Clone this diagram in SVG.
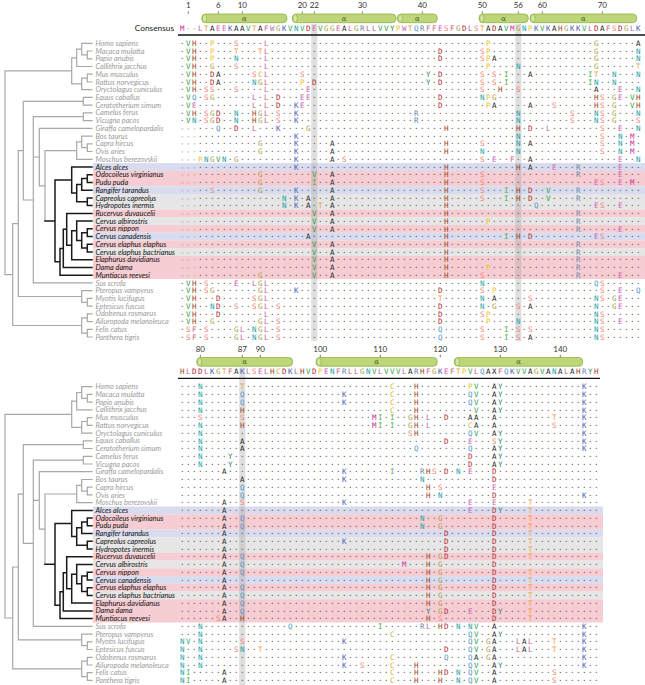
<svg xmlns="http://www.w3.org/2000/svg" xmlns:xlink="http://www.w3.org/1999/xlink" width="645" height="685" viewBox="0 0 645 685">
<style>
.s{font-family:"DejaVu Sans Mono",monospace;font-size:7.5px;letter-spacing:1.484px;fill:#4a4a4a}
.g{fill:#9a9a9a}
.A{fill:#222}.C{fill:#cfae22}.D{fill:#b22a2f}.E{fill:#cf5fae}.F{fill:#c46b86}.G{fill:#a39a3c}.H{fill:#9b4b2c}.I{fill:#52ad4a}.K{fill:#4c5ab5}.L{fill:#c45e98}.M{fill:#d12a9a}.N{fill:#18a3a6}.P{fill:#f0c12c}.Q{fill:#4a93c8}.R{fill:#6e88a6}.S{fill:#f27b6c}.T{fill:#f0a04a}.V{fill:#2f9d4a}.W{fill:#c070b0}.Y{fill:#2a7a6c}.X{fill:#222}
.nm{font-family:Lato,"Liberation Sans",sans-serif;font-style:italic;font-size:7.3px;fill:#9a9a9a}
.nb{fill:#111}
.num{font-family:Lato,"Liberation Sans",sans-serif;font-size:8px;fill:#333;text-anchor:middle}
.tick{stroke:#555;stroke-width:0.8}
.bar{fill:#bcd679;stroke:#8fb143;stroke-width:0.8}
.cap{fill:#d3e6a4;stroke:#8fb143;stroke-width:0.7}
.al{font-family:"DejaVu Serif",serif;font-size:7px;fill:#4a5a20;text-anchor:middle}
.tg{fill:none;stroke:#a8a8a8;stroke-width:1.2;stroke-linecap:square}
.tb{fill:none;stroke:#1a1a1a;stroke-width:1.5;stroke-linecap:square}
.pk{fill:#f6cdd2}.bl{fill:#d9dcef}.gy{fill:#e6e6e6}
.col{fill:#9a9a9a;opacity:0.32}
.rule{stroke:#111;stroke-width:1.3}
</style>

<!-- row bands -->
<g id="bands-top">
<rect class="bl" x="93" y="163.1" width="552" height="7.8"/>
<rect class="pk" x="93" y="170.84" width="552" height="15.5"/>
<rect class="bl" x="93" y="186.3" width="552" height="7.8"/>
<rect class="gy" x="93" y="194.03" width="552" height="15.5"/>
<rect class="pk" x="93" y="209.49" width="552" height="7.8"/>
<rect class="gy" x="93" y="217.22" width="552" height="7.8"/>
<rect class="pk" x="93" y="224.95" width="552" height="7.8"/>
<rect class="bl" x="93" y="232.68" width="552" height="7.8"/>
<rect class="pk" x="93" y="240.41" width="552" height="7.8"/>
<rect class="gy" x="93" y="248.14" width="552" height="7.8"/>
<rect class="pk" x="93" y="255.87" width="552" height="23.2"/>
</g>
<g id="bands-bottom" transform="translate(0,343.4)">
<rect class="bl" x="93" y="163.1" width="510" height="7.8"/>
<rect class="pk" x="93" y="170.84" width="510" height="15.5"/>
<rect class="bl" x="93" y="186.3" width="510" height="7.8"/>
<rect class="gy" x="93" y="194.03" width="510" height="15.5"/>
<rect class="pk" x="93" y="209.49" width="510" height="7.8"/>
<rect class="gy" x="93" y="217.22" width="510" height="7.8"/>
<rect class="pk" x="93" y="224.95" width="510" height="7.8"/>
<rect class="bl" x="93" y="232.68" width="510" height="7.8"/>
<rect class="pk" x="93" y="240.41" width="510" height="7.8"/>
<rect class="gy" x="93" y="248.14" width="510" height="7.8"/>
<rect class="pk" x="93" y="255.87" width="510" height="23.2"/>
</g>

<!-- highlighted columns -->
<g id="columns">
<rect class="col" x="311.2" y="24" width="6.2" height="317"/>
<rect class="col" x="515.2" y="24" width="6.2" height="317"/>
<rect class="col" x="239.2" y="367.5" width="6.2" height="317.5"/>
</g>

<!-- tree -->
<g id="tree-top">
<path class="tg" d="M81.7,43.3H92M87.3,51H92M87.3,58.8H92M87.3,51V58.8M81.7,54.9H87.3M81.7,43.3V54.9M76.7,49.1H81.7M76.7,66.5H92M76.7,49.1V66.5M71.7,57.8H76.7M87.3,74.2H92M87.3,82H92M87.3,74.2V82M81.7,78.1H87.3M81.7,89.7H92M81.7,78.1V89.7M71.7,83.9H81.7M71.7,57.8V83.9M5,70.9H71.7M83.3,97.4H92M83.3,105.1H92M83.3,97.4V105.1M23.3,101.3H83.3M83.3,112.9H92M83.3,120.6H92M83.3,112.9V120.6M33.3,116.7H83.3M39.3,128.3H92M87.3,143.8H92M87.3,151.5H92M87.3,143.8V151.5M81.7,147.7H87.3M81.7,136.1H92M81.7,136.1V147.7M76.7,141.9H81.7M76.7,159.3H92M76.7,141.9V159.3M45,150.6H76.7M45,150.6V220.9M39.3,185.8H45M39.3,128.3V185.8M33.3,157H39.3M33.3,282.9H92M33.3,116.7V282.9M23.3,200H33.3M23.3,101.3V200M18.3,150.7H23.3M87.3,298.4H92M87.3,306.1H92M87.3,298.4V306.1M81.7,302.3H87.3M81.7,290.7H92M81.7,290.7V302.3M18.3,296.5H81.7M18.3,150.7V296.5M12.7,223.6H18.3M87.3,313.9H92M87.3,321.6H92M87.3,313.9V321.6M81.7,317.8H87.3M87.3,329.3H92M87.3,337H92M87.3,329.3V337M81.7,333.2H87.3M81.7,317.8V333.2M12.7,325.5H81.7M12.7,223.6V325.5M5,274.6H12.7M5,70.9V274.6"/>
<path class="tb" d="M87.3,174.7H92M87.3,182.4H92M87.3,174.7V182.4M81.7,178.6H87.3M81.7,190.2H92M81.7,178.6V190.2M76.7,184.4H81.7M87.3,197.9H92M87.3,205.6H92M87.3,197.9V205.6M76.7,201.8H87.3M76.7,184.4V201.8M71.7,193.1H76.7M71.7,167H92M71.7,167V193.1M55,180H71.7M87.3,228.8H92M87.3,236.5H92M87.3,228.8V236.5M81.7,232.7H87.3M87.3,244.3H92M87.3,252H92M87.3,244.3V252M81.7,248.1H87.3M81.7,232.7V248.1M76.7,240.4H81.7M76.7,221.1H92M76.7,221.1V240.4M71.7,230.8H76.7M71.7,259.7H92M71.7,230.8V259.7M66.7,245.3H71.7M66.7,213.4H92M66.7,213.4V245.3M63.3,229.3H66.7M63.3,267.5H92M63.3,229.3V267.5M60,248.4H63.3M60,275.2H92M60,248.4V275.2M55,261.8H60M55,180V261.8M45,220.9H55"/>
</g>
<use xlink:href="#tree-top" href="#tree-top" transform="translate(0,343.4)"/>

<!-- species names -->
<g id="names-top" class="nm">
<text x="95.5" y="45.9">Homo sapiens</text>
<text x="95.5" y="53.63">Macaca mulatta</text>
<text x="95.5" y="61.36">Papio anubis</text>
<text x="95.5" y="69.09">Callithrix jacchus</text>
<text x="95.5" y="76.82">Mus musculus</text>
<text x="95.5" y="84.55">Rattus norvegicus</text>
<text x="95.5" y="92.28">Oryctolagus cuniculus</text>
<text x="95.5" y="100.01">Equus caballus</text>
<text x="95.5" y="107.74">Ceratotherium simum</text>
<text x="95.5" y="115.47">Camelus ferus</text>
<text x="95.5" y="123.2">Vicugna pacos</text>
<text x="95.5" y="130.93">Giraffa camelopardalis</text>
<text x="95.5" y="138.66">Bos taurus</text>
<text x="95.5" y="146.39">Capra hircus</text>
<text x="95.5" y="154.12">Ovis aries</text>
<text x="95.5" y="161.85">Moschus berezovskii</text>
<text class="nb" x="95.5" y="169.58">Alces alces</text>
<text class="nb" x="95.5" y="177.31">Odocoileus virginianus</text>
<text class="nb" x="95.5" y="185.04">Pudu puda</text>
<text class="nb" x="95.5" y="192.77">Rangifer tarandus</text>
<text class="nb" x="95.5" y="200.5">Capreolus capreolus</text>
<text class="nb" x="95.5" y="208.23">Hydropotes inermis</text>
<text class="nb" x="95.5" y="215.96">Rucervus duvaucelii</text>
<text class="nb" x="95.5" y="223.69">Cervus albirostris</text>
<text class="nb" x="95.5" y="231.42">Cervus nippon</text>
<text class="nb" x="95.5" y="239.15">Cervus canadensis</text>
<text class="nb" x="95.5" y="246.88">Cervus elaphus elaphus</text>
<text class="nb" x="95.5" y="254.61">Cervus elaphus bactrianus</text>
<text class="nb" x="95.5" y="262.34">Elaphurus davidianus</text>
<text class="nb" x="95.5" y="270.07">Dama dama</text>
<text class="nb" x="95.5" y="277.8">Muntiacus reevesi</text>
<text x="95.5" y="285.53">Sus scrofa</text>
<text x="95.5" y="293.26">Pteropus vampyrus</text>
<text x="95.5" y="300.99">Myotis lucifugus</text>
<text x="95.5" y="308.72">Eptesicus fuscus</text>
<text x="95.5" y="316.45">Odobenus rosmarus</text>
<text x="95.5" y="324.18">Ailuropoda melanoleuca</text>
<text x="95.5" y="331.91">Felis catus</text>
<text x="95.5" y="339.64">Panthera tigris</text>
</g>
<use xlink:href="#names-top" href="#names-top" transform="translate(0,343.4)"/>

<!-- numbering, helices, consensus: top -->
<g id="header-top">
<text class="num" x="188.3" y="8.3">1</text><text class="num" x="218.3" y="8.3">6</text><text class="num" x="242.3" y="8.3">10</text><text class="num" x="302.3" y="8.3">20</text><text class="num" x="314.3" y="8.3">22</text><text class="num" x="362.3" y="8.3">30</text><text class="num" x="422.3" y="8.3">40</text><text class="num" x="482.3" y="8.3">50</text><text class="num" x="518.3" y="8.3">56</text><text class="num" x="542.3" y="8.3">60</text><text class="num" x="602.3" y="8.3">70</text>
<path class="tick" d="M188.3,11.4V13.8M218.3,11.4V13.8M242.3,11.4V13.8M302.3,11.4V13.8M314.3,11.4V13.8M362.3,11.4V13.8M422.3,11.4V13.8M482.3,11.4V13.8M518.3,11.4V13.8M542.3,11.4V13.8M602.3,11.4V13.8"/>
<rect class="bar" x="201.7" y="14" width="85.3" height="8.7" rx="4"/><ellipse class="cap" cx="204.6" cy="18.35" rx="2.2" ry="3.9"/><text class="al" x="244.3" y="20.6">α</text>
<rect class="bar" x="292.3" y="14" width="103.7" height="8.7" rx="4"/><ellipse class="cap" cx="295.2" cy="18.35" rx="2.2" ry="3.9"/><text class="al" x="344.2" y="20.6">α</text>
<rect class="bar" x="397.3" y="14" width="40" height="8.7" rx="4"/><ellipse class="cap" cx="400.2" cy="18.35" rx="2.2" ry="3.9"/><text class="al" x="417.3" y="20.6">α</text>
<rect class="bar" x="479" y="14" width="49.3" height="8.7" rx="4"/><ellipse class="cap" cx="481.9" cy="18.35" rx="2.2" ry="3.9"/><text class="al" x="503.7" y="20.6">α</text>
<rect class="bar" x="530" y="14" width="106.7" height="8.7" rx="4"/><ellipse class="cap" cx="532.9" cy="18.35" rx="2.2" ry="3.9"/><text class="al" x="583.4" y="20.6">α</text>
<text x="174" y="31" style="font-family:Lato,'Liberation Sans',sans-serif;font-size:8.3px;fill:#222;text-anchor:end">Consensus</text>
<text class="s" x="180" y="31"><tspan class="M">M</tspan><tspan class="g">--</tspan><tspan class="L">L</tspan><tspan class="T">T</tspan><tspan class="A">A</tspan><tspan class="E">EE</tspan><tspan class="K">K</tspan><tspan class="A">AA</tspan><tspan class="V">V</tspan><tspan class="T">T</tspan><tspan class="A">A</tspan><tspan class="F">F</tspan><tspan class="W">W</tspan><tspan class="G">G</tspan><tspan class="K">K</tspan><tspan class="V">V</tspan><tspan class="N">N</tspan><tspan class="V">V</tspan><tspan class="D">D</tspan><tspan class="E">E</tspan><tspan class="V">V</tspan><tspan class="G">GG</tspan><tspan class="E">E</tspan><tspan class="A">A</tspan><tspan class="L">L</tspan><tspan class="G">G</tspan><tspan class="R">R</tspan><tspan class="L">LL</tspan><tspan class="V">VV</tspan><tspan class="Y">Y</tspan><tspan class="P">P</tspan><tspan class="W">W</tspan><tspan class="T">T</tspan><tspan class="Q">Q</tspan><tspan class="R">R</tspan><tspan class="F">FF</tspan><tspan class="E">E</tspan><tspan class="S">S</tspan><tspan class="F">F</tspan><tspan class="G">G</tspan><tspan class="D">D</tspan><tspan class="L">L</tspan><tspan class="S">S</tspan><tspan class="T">T</tspan><tspan class="A">A</tspan><tspan class="D">D</tspan><tspan class="A">A</tspan><tspan class="V">V</tspan><tspan class="M">M</tspan><tspan class="G">G</tspan><tspan class="N">N</tspan><tspan class="P">P</tspan><tspan class="K">K</tspan><tspan class="V">V</tspan><tspan class="K">K</tspan><tspan class="A">A</tspan><tspan class="H">H</tspan><tspan class="G">G</tspan><tspan class="K">KK</tspan><tspan class="V">V</tspan><tspan class="L">L</tspan><tspan class="D">D</tspan><tspan class="A">A</tspan><tspan class="F">F</tspan><tspan class="S">S</tspan><tspan class="D">D</tspan><tspan class="G">G</tspan><tspan class="L">L</tspan><tspan class="K">K</tspan></text>
<line class="rule" x1="178" y1="35" x2="645" y2="35"/>
</g>

<!-- numbering, helices, consensus: bottom -->
<g id="header-bottom">
<text class="num" x="200.3" y="351.7">80</text><text class="num" x="242.3" y="351.7">87</text><text class="num" x="260.3" y="351.7">90</text><text class="num" x="320.3" y="351.7">100</text><text class="num" x="380.3" y="351.7">110</text><text class="num" x="440.3" y="351.7">120</text><text class="num" x="500.3" y="351.7">130</text><text class="num" x="560.3" y="351.7">140</text>
<path class="tick" d="M200.3,354.8V357.2M242.3,354.8V357.2M260.3,354.8V357.2M320.3,354.8V357.2M380.3,354.8V357.2M440.3,354.8V357.2M500.3,354.8V357.2M560.3,354.8V357.2"/>
<rect class="bar" x="196.7" y="357.5" width="96" height="8.7" rx="4"/><ellipse class="cap" cx="199.6" cy="361.85" rx="2.2" ry="3.9"/><text class="al" x="244.7" y="364.1">α</text>
<rect class="bar" x="316" y="357.5" width="121.3" height="8.7" rx="4"/><ellipse class="cap" cx="318.9" cy="361.85" rx="2.2" ry="3.9"/><text class="al" x="376.7" y="364.1">α</text>
<rect class="bar" x="454.3" y="357.5" width="128.4" height="8.7" rx="4"/><ellipse class="cap" cx="457.2" cy="361.85" rx="2.2" ry="3.9"/><text class="al" x="518.5" y="364.1">α</text>
<text class="s" x="180" y="374.4"><tspan class="H">H</tspan><tspan class="L">L</tspan><tspan class="D">DD</tspan><tspan class="L">L</tspan><tspan class="K">K</tspan><tspan class="G">G</tspan><tspan class="T">T</tspan><tspan class="F">F</tspan><tspan class="A">A</tspan><tspan class="K">K</tspan><tspan class="L">L</tspan><tspan class="S">S</tspan><tspan class="E">E</tspan><tspan class="L">L</tspan><tspan class="H">H</tspan><tspan class="C">C</tspan><tspan class="D">D</tspan><tspan class="K">K</tspan><tspan class="L">L</tspan><tspan class="H">H</tspan><tspan class="V">V</tspan><tspan class="D">D</tspan><tspan class="P">P</tspan><tspan class="E">E</tspan><tspan class="N">N</tspan><tspan class="F">F</tspan><tspan class="R">R</tspan><tspan class="L">LL</tspan><tspan class="G">G</tspan><tspan class="N">N</tspan><tspan class="V">V</tspan><tspan class="L">L</tspan><tspan class="V">VVV</tspan><tspan class="L">L</tspan><tspan class="A">A</tspan><tspan class="R">R</tspan><tspan class="H">H</tspan><tspan class="F">F</tspan><tspan class="G">G</tspan><tspan class="K">K</tspan><tspan class="E">E</tspan><tspan class="F">F</tspan><tspan class="T">T</tspan><tspan class="P">P</tspan><tspan class="V">V</tspan><tspan class="L">L</tspan><tspan class="Q">Q</tspan><tspan class="A">A</tspan><tspan class="X">X</tspan><tspan class="F">F</tspan><tspan class="Q">Q</tspan><tspan class="K">K</tspan><tspan class="V">VV</tspan><tspan class="A">A</tspan><tspan class="G">G</tspan><tspan class="V">V</tspan><tspan class="A">A</tspan><tspan class="N">N</tspan><tspan class="A">A</tspan><tspan class="L">L</tspan><tspan class="A">A</tspan><tspan class="H">H</tspan><tspan class="R">R</tspan><tspan class="Y">Y</tspan><tspan class="H">H</tspan></text>
<line class="rule" x1="178" y1="378.4" x2="600" y2="378.4"/>
</g>

<!-- alignment rows: top (positions 0-76) -->
<g id="rows-top" class="s">
<text x="180" y="46">·<tspan x="186" class="V">V</tspan><tspan x="192" class="H">H</tspan>··<tspan x="210" class="P">P</tspan>···<tspan x="234" class="S">S</tspan>····<tspan x="264" class="L">L</tspan>····································<tspan x="486" class="P">P</tspan>·················<tspan x="594" class="G">G</tspan>······<tspan x="636" class="A">A</tspan></text>
<text x="180" y="53.73">·<tspan x="186" class="V">V</tspan><tspan x="192" class="H">H</tspan>··<tspan x="210" class="P">P</tspan>···<tspan x="234" class="T">T</tspan>···<tspan x="258" class="T">T</tspan><tspan x="264" class="L">L</tspan>····························<tspan x="438" class="D">D</tspan>······<tspan x="480" class="S">S</tspan><tspan x="486" class="P">P</tspan>·················<tspan x="594" class="G">G</tspan>······<tspan x="636" class="N">N</tspan></text>
<text x="180" y="61.46">·<tspan x="186" class="V">V</tspan><tspan x="192" class="H">H</tspan>··<tspan x="210" class="P">P</tspan>···<tspan x="234" class="N">N</tspan>····<tspan x="264" class="L">L</tspan>····························<tspan x="438" class="D">D</tspan>······<tspan x="480" class="S">S</tspan><tspan x="486" class="P">P</tspan><tspan x="492" class="A">A</tspan>················<tspan x="594" class="G">G</tspan>······<tspan x="636" class="N">N</tspan></text>
<text x="180" y="69.19">·<tspan x="186" class="V">V</tspan><tspan x="192" class="H">H</tspan>··<tspan x="210" class="G">G</tspan>···<tspan x="234" class="S">S</tspan>····<tspan x="264" class="L">L</tspan>····································<tspan x="486" class="P">P</tspan>····<tspan x="516" class="N">N</tspan>············<tspan x="594" class="G">G</tspan>······<tspan x="636" class="T">T</tspan></text>
<text x="180" y="76.92">·<tspan x="186" class="V">V</tspan><tspan x="192" class="H">H</tspan>··<tspan x="210" class="D">D</tspan><tspan x="216" class="A">A</tspan>·····<tspan x="252" class="S">S</tspan><tspan x="258" class="C">C</tspan><tspan x="264" class="L">L</tspan>·····<tspan x="300" class="S">S</tspan>····················<tspan x="426" class="Y">Y</tspan>·<tspan x="438" class="D">D</tspan>······<tspan x="480" class="S">S</tspan>·<tspan x="492" class="S">S</tspan>·<tspan x="504" class="I">I</tspan>···<tspan x="528" class="A">A</tspan>·········<tspan x="588" class="I">I</tspan><tspan x="594" class="T">T</tspan>··<tspan x="612" class="N">N</tspan>···<tspan x="636" class="N">N</tspan></text>
<text x="180" y="84.65">·<tspan x="186" class="V">V</tspan><tspan x="192" class="H">H</tspan>··<tspan x="210" class="D">D</tspan><tspan x="216" class="A">A</tspan>·····<tspan x="252" class="N">N</tspan><tspan x="258" class="G">G</tspan><tspan x="264" class="L">L</tspan>·····<tspan x="300" class="P">P</tspan>·<tspan x="312" class="D">D</tspan>··················<tspan x="426" class="Y">Y</tspan>·<tspan x="438" class="D">D</tspan>······<tspan x="480" class="S">S</tspan>·<tspan x="492" class="S">S</tspan>·<tspan x="504" class="I">I</tspan>·············<tspan x="588" class="I">I</tspan><tspan x="594" class="N">N</tspan>··<tspan x="612" class="N">N</tspan>····</text>
<text x="180" y="92.38">·<tspan x="186" class="V">V</tspan><tspan x="192" class="H">H</tspan>·<tspan x="204" class="S">S</tspan><tspan x="210" class="S">S</tspan>···<tspan x="234" class="S">S</tspan>····<tspan x="264" class="L">L</tspan>······<tspan x="306" class="E">E</tspan>····························<tspan x="480" class="S">S</tspan>··<tspan x="498" class="H">H</tspan>··<tspan x="516" class="S">S</tspan>············<tspan x="594" class="A">A</tspan>···<tspan x="618" class="E">E</tspan>··<tspan x="636" class="N">N</tspan></text>
<text x="180" y="100.11">·<tspan x="186" class="V">V</tspan><tspan x="192" class="Q">Q</tspan>·<tspan x="204" class="S">S</tspan><tspan x="210" class="G">G</tspan>······<tspan x="252" class="L">L</tspan>·<tspan x="264" class="L">L</tspan>·<tspan x="276" class="D">D</tspan>···<tspan x="300" class="E">E</tspan><tspan x="306" class="E">E</tspan>·····················<tspan x="438" class="D">D</tspan>······<tspan x="480" class="N">N</tspan><tspan x="486" class="P">P</tspan><tspan x="492" class="G">G</tspan>················<tspan x="594" class="H">H</tspan><tspan x="600" class="S">S</tspan>·<tspan x="612" class="G">G</tspan><tspan x="618" class="E">E</tspan>·<tspan x="630" class="V">V</tspan><tspan x="636" class="H">H</tspan></text>
<text x="180" y="107.84">·<tspan x="186" class="V">V</tspan><tspan x="192" class="E">E</tspan>·········<tspan x="252" class="L">L</tspan>·<tspan x="264" class="L">L</tspan>·<tspan x="276" class="D">D</tspan>··<tspan x="294" class="K">K</tspan><tspan x="300" class="E">E</tspan>······················<tspan x="438" class="D">D</tspan>·······<tspan x="486" class="P">P</tspan><tspan x="492" class="A">A</tspan>·····<tspan x="528" class="A">A</tspan>···<tspan x="552" class="S">S</tspan>······<tspan x="594" class="H">H</tspan><tspan x="600" class="S">S</tspan>·<tspan x="612" class="G">G</tspan>··<tspan x="630" class="V">V</tspan><tspan x="636" class="H">H</tspan></text>
<text x="180" y="115.57">·<tspan x="186" class="V">V</tspan><tspan x="192" class="H">H</tspan>·<tspan x="204" class="S">S</tspan><tspan x="210" class="G">G</tspan><tspan x="216" class="D">D</tspan>··<tspan x="234" class="N">N</tspan>··<tspan x="252" class="H">H</tspan><tspan x="258" class="G">G</tspan><tspan x="264" class="L">L</tspan>·<tspan x="276" class="S">S</tspan>··<tspan x="294" class="K">K</tspan>···················<tspan x="414" class="R">R</tspan>················<tspan x="516" class="N">N</tspan>········<tspan x="570" class="S">S</tspan>···<tspan x="594" class="N">N</tspan><tspan x="600" class="S">S</tspan>·<tspan x="612" class="G">G</tspan>···<tspan x="636" class="N">N</tspan></text>
<text x="180" y="123.3">·<tspan x="186" class="V">V</tspan><tspan x="192" class="N">N</tspan>·<tspan x="204" class="S">S</tspan><tspan x="210" class="G">G</tspan><tspan x="216" class="D">D</tspan>··<tspan x="234" class="N">N</tspan>··<tspan x="252" class="H">H</tspan><tspan x="258" class="G">G</tspan><tspan x="264" class="L">L</tspan>·<tspan x="276" class="S">S</tspan>··<tspan x="294" class="K">K</tspan>···················<tspan x="414" class="R">R</tspan>················<tspan x="516" class="N">N</tspan>········<tspan x="570" class="S">S</tspan>···<tspan x="594" class="N">N</tspan><tspan x="600" class="S">S</tspan>·<tspan x="612" class="G">G</tspan>···<tspan x="636" class="S">S</tspan></text>
<text x="180" y="131.03"><tspan class="g">---</tspan>···<tspan x="216" class="Q">Q</tspan>··<tspan x="234" class="D">D</tspan>··<tspan x="252" class="L">L</tspan>···<tspan x="276" class="K">K</tspan>····<tspan x="306" class="G">G</tspan>······················<tspan x="444" class="H">H</tspan>···········<tspan x="516" class="H">H</tspan>·<tspan x="528" class="D">D</tspan>··<tspan x="546" class="L">L</tspan>········<tspan x="600" class="S">S</tspan>··<tspan x="618" class="E">E</tspan>··<tspan x="636" class="N">N</tspan></text>
<text x="180" y="138.76"><tspan class="g">---</tspan>················<tspan x="294" class="K">K</tspan>····································<tspan x="516" class="N">N</tspan>·············<tspan x="600" class="S">S</tspan>··<tspan x="618" class="N">N</tspan>·<tspan x="630" class="M">M</tspan>·</text>
<text x="180" y="146.49"><tspan class="g">---</tspan>··········<tspan x="258" class="G">G</tspan>·····<tspan x="294" class="K">K</tspan>·····<tspan x="330" class="A">A</tspan>··················<tspan x="444" class="H">H</tspan>·····<tspan x="480" class="S">S</tspan>·····<tspan x="516" class="N">N</tspan>·<tspan x="528" class="A">A</tspan>···········<tspan x="600" class="S">S</tspan>··<tspan x="618" class="N">N</tspan>·<tspan x="630" class="M">M</tspan>·</text>
<text x="180" y="154.22"><tspan class="g">---</tspan>··········<tspan x="258" class="G">G</tspan>·····<tspan x="294" class="K">K</tspan>·····<tspan x="330" class="A">A</tspan>··················<tspan x="444" class="H">H</tspan>·····<tspan x="480" class="N">N</tspan>·····<tspan x="516" class="N">N</tspan>·············<tspan x="600" class="S">S</tspan>··<tspan x="618" class="N">N</tspan>·<tspan x="630" class="M">M</tspan>·</text>
<text x="180" y="161.95"><tspan class="g">---</tspan><tspan x="198" class="P">P</tspan><tspan x="204" class="N">N</tspan><tspan x="210" class="G">G</tspan><tspan x="216" class="V">V</tspan><tspan x="222" class="N">N</tspan>·<tspan x="234" class="G">G</tspan>·········<tspan x="294" class="K">K</tspan>·····<tspan x="330" class="A">A</tspan>·<tspan x="342" class="S">S</tspan>······················<tspan x="480" class="S">S</tspan>·<tspan x="492" class="E">E</tspan>··<tspan x="510" class="F">F</tspan>··<tspan x="528" class="A">A</tspan>··············<tspan x="618" class="E">E</tspan>··<tspan x="636" class="N">N</tspan></text>
<text x="180" y="169.68"><tspan class="g">---</tspan>················<tspan x="294" class="K">K</tspan>························<tspan x="444" class="H">H</tspan>···········<tspan x="516" class="H">H</tspan>·<tspan x="528" class="A">A</tspan>···<tspan x="552" class="E">E</tspan>···<tspan x="576" class="R">R</tspan>······<tspan x="618" class="E">E</tspan>···</text>
<text x="180" y="177.41"><tspan class="g">---</tspan>··········<tspan x="258" class="G">G</tspan>········<tspan x="312" class="V">V</tspan>··<tspan x="330" class="A">A</tspan>··················<tspan x="444" class="H">H</tspan>·····<tspan x="480" class="S">S</tspan>···············<tspan x="576" class="R">R</tspan>······<tspan x="618" class="E">E</tspan>···</text>
<text x="180" y="185.14"><tspan class="g">---</tspan>··········<tspan x="258" class="G">G</tspan>········<tspan x="312" class="I">I</tspan>··<tspan x="330" class="A">A</tspan>··················<tspan x="444" class="H">H</tspan>·····<tspan x="480" class="S">S</tspan>··················<tspan x="594" class="E">E</tspan><tspan x="600" class="S">S</tspan>··<tspan x="618" class="E">E</tspan>·<tspan x="630" class="M">M</tspan>·</text>
<text x="180" y="192.87"><tspan class="g">---</tspan>··<tspan x="210" class="S">S</tspan>·······<tspan x="258" class="G">G</tspan>·····<tspan x="294" class="K">K</tspan>·····<tspan x="330" class="A">A</tspan>··················<tspan x="444" class="H">H</tspan>·····<tspan x="480" class="S">S</tspan>···<tspan x="504" class="I">I</tspan>·<tspan x="516" class="H">H</tspan>·<tspan x="528" class="D">D</tspan>··<tspan x="546" class="V">V</tspan>····<tspan x="576" class="R">R</tspan>··········</text>
<text x="180" y="200.6"><tspan class="g">---</tspan>··············<tspan x="282" class="N">N</tspan>·<tspan x="294" class="K">K</tspan>·<tspan x="306" class="A">A</tspan>···<tspan x="330" class="A">A</tspan>··················<tspan x="444" class="H">H</tspan>·····<tspan x="480" class="S">S</tspan>···<tspan x="504" class="I">I</tspan>·<tspan x="516" class="H">H</tspan>·<tspan x="528" class="D">D</tspan>··<tspan x="546" class="V">V</tspan>····<tspan x="576" class="R">R</tspan>··········</text>
<text x="180" y="208.33"><tspan class="g">---</tspan>··············<tspan x="282" class="N">N</tspan>·<tspan x="294" class="K">K</tspan>·<tspan x="306" class="A">A</tspan>·<tspan x="318" class="T">T</tspan>·<tspan x="330" class="A">A</tspan>··················<tspan x="444" class="H">H</tspan>··············<tspan x="534" class="Q">Q</tspan>·········<tspan x="594" class="E">E</tspan><tspan x="600" class="S">S</tspan>··<tspan x="618" class="E">E</tspan>···</text>
<text x="180" y="216.06"><tspan class="g">---</tspan>···················<tspan x="312" class="V">V</tspan>··<tspan x="330" class="A">A</tspan>··················<tspan x="444" class="H">H</tspan>·····················<tspan x="576" class="R">R</tspan>··········</text>
<text x="180" y="223.79"><tspan class="g">---</tspan>···················<tspan x="312" class="V">V</tspan>··<tspan x="330" class="A">A</tspan>··················<tspan x="444" class="H">H</tspan>······<tspan x="486" class="P">P</tspan>··············<tspan x="576" class="R">R</tspan>··········</text>
<text x="180" y="231.52"><tspan class="g">---</tspan>···················<tspan x="312" class="V">V</tspan>··<tspan x="330" class="A">A</tspan>··················<tspan x="444" class="H">H</tspan>·····················<tspan x="576" class="R">R</tspan>······<tspan x="618" class="E">E</tspan>···</text>
<text x="180" y="239.25"><tspan class="g">---</tspan>··················<tspan x="306" class="A">A</tspan>······················<tspan x="444" class="H">H</tspan>·········<tspan x="504" class="I">I</tspan>·<tspan x="516" class="H">H</tspan>·<tspan x="528" class="D">D</tspan>··········<tspan x="594" class="E">E</tspan><tspan x="600" class="S">S</tspan>······</text>
<text x="180" y="246.98"><tspan class="g">---</tspan>···················<tspan x="312" class="V">V</tspan>··<tspan x="330" class="A">A</tspan>··················<tspan x="444" class="H">H</tspan>·····················<tspan x="576" class="R">R</tspan>··········</text>
<text x="180" y="254.71"><tspan class="g">---</tspan>···················<tspan x="312" class="V">V</tspan>··<tspan x="330" class="A">A</tspan>··················<tspan x="444" class="H">H</tspan>·····················<tspan x="576" class="R">R</tspan>··········</text>
<text x="180" y="262.44"><tspan class="g">---</tspan>···················<tspan x="312" class="V">V</tspan>··<tspan x="330" class="A">A</tspan>··················<tspan x="444" class="H">H</tspan>·····················<tspan x="576" class="R">R</tspan>··········</text>
<text x="180" y="270.17"><tspan class="g">---</tspan>···················<tspan x="312" class="V">V</tspan>··<tspan x="330" class="A">A</tspan>··················<tspan x="444" class="H">H</tspan>······<tspan x="486" class="P">P</tspan>··············<tspan x="576" class="R">R</tspan>··········</text>
<text x="180" y="277.9"><tspan class="g">---</tspan>··········<tspan x="258" class="G">G</tspan>········<tspan x="312" class="V">V</tspan>··<tspan x="330" class="A">A</tspan>··················<tspan x="444" class="H">H</tspan>·····<tspan x="480" class="S">S</tspan>···············<tspan x="576" class="R">R</tspan>······<tspan x="618" class="E">E</tspan>···</text>
<text x="180" y="285.63">·<tspan x="186" class="V">V</tspan><tspan x="192" class="H">H</tspan>·<tspan x="204" class="S">S</tspan>····<tspan x="234" class="E">E</tspan>··<tspan x="252" class="L">L</tspan><tspan x="258" class="G">G</tspan><tspan x="264" class="L">L</tspan>···································<tspan x="480" class="N">N</tspan>··················<tspan x="594" class="Q">Q</tspan><tspan x="600" class="S">S</tspan>······</text>
<text x="180" y="293.36">·<tspan x="186" class="V">V</tspan><tspan x="192" class="H">H</tspan>·<tspan x="204" class="S">S</tspan><tspan x="210" class="G">G</tspan>·······<tspan x="258" class="G">G</tspan><tspan x="264" class="L">L</tspan>····<tspan x="294" class="K">K</tspan>·······················<tspan x="438" class="D">D</tspan>······<tspan x="480" class="S">S</tspan>·<tspan x="492" class="P">P</tspan>·················<tspan x="600" class="S">S</tspan>··<tspan x="618" class="E">E</tspan>··<tspan x="636" class="Q">Q</tspan></text>
<text x="180" y="301.09">·<tspan x="186" class="V">V</tspan><tspan x="192" class="H">H</tspan>···<tspan x="216" class="D">D</tspan>·····<tspan x="252" class="S">S</tspan><tspan x="258" class="G">G</tspan><tspan x="264" class="L">L</tspan>····························<tspan x="438" class="T">T</tspan>······<tspan x="480" class="N">N</tspan>·<tspan x="492" class="A">A</tspan>·····<tspan x="528" class="S">S</tspan>··········<tspan x="594" class="N">N</tspan><tspan x="600" class="S">S</tspan>·<tspan x="612" class="G">G</tspan><tspan x="618" class="E">E</tspan>···</text>
<text x="180" y="308.82">·<tspan x="186" class="V">V</tspan><tspan x="192" class="H">H</tspan>··<tspan x="210" class="N">N</tspan><tspan x="216" class="D">D</tspan>··<tspan x="234" class="S">S</tspan>··<tspan x="252" class="S">S</tspan><tspan x="258" class="G">G</tspan><tspan x="264" class="L">L</tspan>·<tspan x="276" class="S">S</tspan>··························<tspan x="438" class="D">D</tspan>······<tspan x="480" class="N">N</tspan>·<tspan x="492" class="G">G</tspan>···<tspan x="516" class="S">S</tspan>·<tspan x="528" class="A">A</tspan>··········<tspan x="594" class="N">N</tspan>··<tspan x="612" class="G">G</tspan><tspan x="618" class="E">E</tspan>···</text>
<text x="180" y="316.55">·<tspan x="186" class="V">V</tspan><tspan x="192" class="H">H</tspan>···<tspan x="216" class="D">D</tspan>·······<tspan x="264" class="L">L</tspan>····························<tspan x="438" class="D">D</tspan>······<tspan x="480" class="S">S</tspan><tspan x="486" class="P">P</tspan>·················<tspan x="594" class="N">N</tspan><tspan x="600" class="S">S</tspan>······</text>
<text x="180" y="324.28">·<tspan x="186" class="V">V</tspan><tspan x="192" class="H">H</tspan>··<tspan x="210" class="G">G</tspan>·······<tspan x="258" class="G">G</tspan><tspan x="264" class="L">L</tspan>·<tspan x="276" class="S">S</tspan>··························<tspan x="438" class="D">D</tspan>·······<tspan x="486" class="P">P</tspan>····<tspan x="516" class="N">N</tspan>············<tspan x="594" class="N">N</tspan><tspan x="600" class="S">S</tspan>··<tspan x="618" class="E">E</tspan>···</text>
<text x="180" y="332.01">·<tspan x="186" class="S">S</tspan><tspan x="192" class="F">F</tspan>·<tspan x="204" class="S">S</tspan>····<tspan x="234" class="G">G</tspan><tspan x="240" class="L">L</tspan>·<tspan x="252" class="N">N</tspan><tspan x="258" class="G">G</tspan><tspan x="264" class="L">L</tspan>·<tspan x="276" class="S">S</tspan>··························<tspan x="438" class="Q">Q</tspan>······<tspan x="480" class="S">S</tspan>···<tspan x="504" class="I">I</tspan>·<tspan x="516" class="S">S</tspan>·<tspan x="528" class="S">S</tspan>··········<tspan x="594" class="N">N</tspan><tspan x="600" class="S">S</tspan>······</text>
<text x="180" y="339.74">·<tspan x="186" class="S">S</tspan><tspan x="192" class="F">F</tspan>·<tspan x="204" class="S">S</tspan>····<tspan x="234" class="G">G</tspan><tspan x="240" class="L">L</tspan>·<tspan x="252" class="N">N</tspan><tspan x="258" class="G">G</tspan><tspan x="264" class="L">L</tspan>·<tspan x="276" class="S">S</tspan>··························<tspan x="438" class="Q">Q</tspan>······<tspan x="480" class="S">S</tspan>···<tspan x="504" class="I">I</tspan>·<tspan x="516" class="S">S</tspan>·<tspan x="528" class="A">A</tspan>··········<tspan x="594" class="N">N</tspan><tspan x="600" class="S">S</tspan>······</text>
</g>

<!-- alignment rows: bottom (positions 77-146) -->
<g id="rows-bottom" class="s" transform="translate(0,343.4)">
<text x="180" y="46">···<tspan x="198" class="N">N</tspan>······<tspan x="240" class="T">T</tspan>························<tspan x="390" class="C">C</tspan>···<tspan x="414" class="H">H</tspan>········<tspan x="468" class="P">P</tspan><tspan x="474" class="V">V</tspan>··<tspan x="492" class="A">A</tspan><tspan x="498" class="Y">Y</tspan>·············<tspan x="582" class="K">K</tspan>··</text>
<text x="180" y="53.73">···<tspan x="198" class="N">N</tspan>······<tspan x="240" class="Q">Q</tspan>················<tspan x="342" class="K">K</tspan>·······<tspan x="390" class="C">C</tspan>···<tspan x="414" class="H">H</tspan>········<tspan x="468" class="Q">Q</tspan><tspan x="474" class="V">V</tspan>··<tspan x="492" class="A">A</tspan><tspan x="498" class="Y">Y</tspan>·············<tspan x="582" class="K">K</tspan>··</text>
<text x="180" y="61.46">···<tspan x="198" class="N">N</tspan>······<tspan x="240" class="Q">Q</tspan>················<tspan x="342" class="K">K</tspan>·······<tspan x="390" class="C">C</tspan>···<tspan x="414" class="H">H</tspan>········<tspan x="468" class="Q">Q</tspan><tspan x="474" class="V">V</tspan>··<tspan x="492" class="A">A</tspan><tspan x="498" class="Y">Y</tspan>·············<tspan x="582" class="K">K</tspan>··</text>
<text x="180" y="69.19">···<tspan x="198" class="N">N</tspan>······<tspan x="240" class="H">H</tspan>························<tspan x="390" class="C">C</tspan>···<tspan x="414" class="H">H</tspan>·········<tspan x="474" class="V">V</tspan>··<tspan x="492" class="A">A</tspan><tspan x="498" class="Y">Y</tspan>·············<tspan x="582" class="K">K</tspan>··</text>
<text x="180" y="76.92">···<tspan x="198" class="S">S</tspan>······<tspan x="240" class="S">S</tspan>·····················<tspan x="372" class="M">M</tspan><tspan x="378" class="I">I</tspan>·<tspan x="390" class="I">I</tspan>··<tspan x="408" class="G">G</tspan><tspan x="414" class="H">H</tspan>·<tspan x="426" class="L">L</tspan>··<tspan x="444" class="D">D</tspan>···<tspan x="468" class="A">A</tspan><tspan x="474" class="A">A</tspan>··<tspan x="492" class="A">A</tspan>·········<tspan x="552" class="T">T</tspan>····<tspan x="582" class="K">K</tspan>··</text>
<text x="180" y="84.65">···<tspan x="198" class="N">N</tspan>······<tspan x="240" class="H">H</tspan>·····················<tspan x="372" class="M">M</tspan><tspan x="378" class="I">I</tspan>·<tspan x="390" class="I">I</tspan>··<tspan x="408" class="G">G</tspan><tspan x="414" class="H">H</tspan>·<tspan x="426" class="L">L</tspan>······<tspan x="468" class="C">C</tspan><tspan x="474" class="A">A</tspan>··<tspan x="492" class="A">A</tspan>·········<tspan x="552" class="S">S</tspan>····<tspan x="582" class="K">K</tspan>··</text>
<text x="180" y="92.38">···<tspan x="198" class="N">N</tspan>··································<tspan x="408" class="S">S</tspan><tspan x="414" class="H">H</tspan>········<tspan x="468" class="Q">Q</tspan><tspan x="474" class="V">V</tspan>··<tspan x="492" class="A">A</tspan><tspan x="498" class="Y">Y</tspan>·············<tspan x="582" class="K">K</tspan>··</text>
<text x="180" y="100.11">···<tspan x="198" class="N">N</tspan>······<tspan x="240" class="A">A</tspan>·································<tspan x="444" class="D">D</tspan>···<tspan x="468" class="E">E</tspan>···<tspan x="492" class="S">S</tspan><tspan x="498" class="Y">Y</tspan>·············<tspan x="582" class="K">K</tspan>··</text>
<text x="180" y="107.84">···<tspan x="198" class="N">N</tspan>······<tspan x="240" class="A">A</tspan>····························<tspan x="414" class="Q">Q</tspan>········<tspan x="468" class="Q">Q</tspan>···<tspan x="492" class="A">A</tspan><tspan x="498" class="Y">Y</tspan>·············<tspan x="582" class="K">K</tspan>··</text>
<text x="180" y="115.57">···<tspan x="198" class="N">N</tspan>····<tspan x="228" class="Y">Y</tspan>·······································<tspan x="468" class="D">D</tspan>···<tspan x="492" class="A">A</tspan><tspan x="498" class="Y">Y</tspan>················</text>
<text x="180" y="123.3">···<tspan x="198" class="N">N</tspan>····<tspan x="228" class="Y">Y</tspan>·······································<tspan x="468" class="D">D</tspan>···<tspan x="492" class="A">A</tspan><tspan x="498" class="Y">Y</tspan>················</text>
<text x="180" y="131.03">·······<tspan x="222" class="A">A</tspan>···················<tspan x="342" class="K">K</tspan>·······<tspan x="390" class="I">I</tspan>····<tspan x="420" class="R">R</tspan><tspan x="426" class="H">H</tspan><tspan x="432" class="S">S</tspan>·<tspan x="444" class="D">D</tspan>·<tspan x="456" class="N">N</tspan>·<tspan x="468" class="E">E</tspan>···<tspan x="492" class="D">D</tspan>·················</text>
<text x="180" y="138.76">··········<tspan x="240" class="A">A</tspan>················<tspan x="342" class="K">K</tspan>············<tspan x="420" class="N">N</tspan>···········<tspan x="492" class="D">D</tspan>·················</text>
<text x="180" y="146.49">··········<tspan x="240" class="Q">Q</tspan>······························<tspan x="426" class="H">H</tspan>·<tspan x="438" class="S">S</tspan>········<tspan x="492" class="E">E</tspan>·················</text>
<text x="180" y="154.22">··········<tspan x="240" class="Q">Q</tspan>······························<tspan x="426" class="H">H</tspan>·<tspan x="438" class="N">N</tspan>········<tspan x="492" class="D">D</tspan>··············<tspan x="582" class="K">K</tspan>··</text>
<text x="180" y="161.95">·······<tspan x="222" class="A">A</tspan>··<tspan x="240" class="S">S</tspan>················<tspan x="342" class="K">K</tspan>····················<tspan x="468" class="E">E</tspan>···<tspan x="492" class="E">E</tspan>·····<tspan x="528" class="T">T</tspan>···········</text>
<text x="180" y="169.68">·······<tspan x="222" class="A">A</tspan>········································<tspan x="468" class="E">E</tspan>···<tspan x="492" class="D">D</tspan><tspan x="498" class="Y">Y</tspan>····<tspan x="528" class="T">T</tspan>···········</text>
<text x="180" y="177.41">·······<tspan x="222" class="A">A</tspan>··<tspan x="240" class="Q">Q</tspan>·····························<tspan x="420" class="N">N</tspan>··<tspan x="438" class="G">G</tspan>········<tspan x="492" class="D">D</tspan>·····<tspan x="528" class="T">T</tspan>···········</text>
<text x="180" y="185.14">·······<tspan x="222" class="A">A</tspan>··<tspan x="240" class="Q">Q</tspan>·····························<tspan x="420" class="N">N</tspan>··<tspan x="438" class="G">G</tspan>········<tspan x="492" class="D">D</tspan>·····<tspan x="528" class="T">T</tspan>···········</text>
<text x="180" y="192.87">·······<tspan x="222" class="A">A</tspan>····································<tspan x="444" class="D">D</tspan>·······<tspan x="492" class="D">D</tspan>·····<tspan x="528" class="T">T</tspan>···········</text>
<text x="180" y="200.6">·······<tspan x="222" class="A">A</tspan>···················<tspan x="342" class="K">K</tspan>················<tspan x="444" class="D">D</tspan>·······<tspan x="492" class="D">D</tspan>·····<tspan x="528" class="T">T</tspan>···········</text>
<text x="180" y="208.33">·······<tspan x="222" class="A">A</tspan>····································<tspan x="444" class="D">D</tspan>·······<tspan x="492" class="D">D</tspan>·····<tspan x="528" class="T">T</tspan>···········</text>
<text x="180" y="216.06">·······<tspan x="222" class="A">A</tspan>··<tspan x="240" class="Q">Q</tspan>······························<tspan x="426" class="H">H</tspan>·<tspan x="438" class="G">G</tspan><tspan x="444" class="D">D</tspan>·······<tspan x="492" class="D">D</tspan>·····<tspan x="528" class="T">T</tspan>···········</text>
<text x="180" y="223.79">·······<tspan x="222" class="A">A</tspan>··<tspan x="240" class="Q">Q</tspan>··························<tspan x="402" class="M">M</tspan>···<tspan x="426" class="H">H</tspan>·<tspan x="438" class="G">G</tspan>········<tspan x="492" class="D">D</tspan>·················</text>
<text x="180" y="231.52">·······<tspan x="222" class="A">A</tspan>··<tspan x="240" class="Q">Q</tspan>······························<tspan x="426" class="H">H</tspan>·<tspan x="438" class="G">G</tspan>········<tspan x="492" class="D">D</tspan>·····<tspan x="528" class="T">T</tspan>···········</text>
<text x="180" y="239.25">·······<tspan x="222" class="A">A</tspan>·································<tspan x="426" class="H">H</tspan>·<tspan x="438" class="G">G</tspan>········<tspan x="492" class="D">D</tspan>·····<tspan x="528" class="T">T</tspan>···········</text>
<text x="180" y="246.98">·······<tspan x="222" class="A">A</tspan>··<tspan x="240" class="Q">Q</tspan>······························<tspan x="426" class="H">H</tspan>·<tspan x="438" class="G">G</tspan>········<tspan x="492" class="D">D</tspan>·····<tspan x="528" class="T">T</tspan>···········</text>
<text x="180" y="254.71">·······<tspan x="222" class="A">A</tspan>··<tspan x="240" class="Q">Q</tspan>······························<tspan x="426" class="H">H</tspan>·<tspan x="438" class="G">G</tspan>········<tspan x="492" class="D">D</tspan>·····<tspan x="528" class="T">T</tspan>···········</text>
<text x="180" y="262.44">·······<tspan x="222" class="A">A</tspan>··<tspan x="240" class="Q">Q</tspan>······························<tspan x="426" class="H">H</tspan>·<tspan x="438" class="G">G</tspan>········<tspan x="492" class="D">D</tspan>·····<tspan x="528" class="T">T</tspan>···········</text>
<text x="180" y="270.17">·······<tspan x="222" class="A">A</tspan>··<tspan x="240" class="Q">Q</tspan>······························<tspan x="426" class="Y">Y</tspan>·<tspan x="438" class="G">G</tspan><tspan x="444" class="D">D</tspan>···<tspan x="468" class="E">E</tspan>···<tspan x="492" class="D">D</tspan><tspan x="498" class="Y">Y</tspan>····<tspan x="528" class="T">T</tspan>···········</text>
<text x="180" y="277.9">······<tspan x="216" class="S">S</tspan><tspan x="222" class="A">A</tspan>··<tspan x="240" class="H">H</tspan>······························<tspan x="426" class="H">H</tspan>·<tspan x="438" class="S">S</tspan>········<tspan x="492" class="D">D</tspan>·····<tspan x="528" class="T">T</tspan>···········</text>
<text x="180" y="285.63">···<tspan x="198" class="N">N</tspan>··············<tspan x="288" class="Q">Q</tspan>··············<tspan x="378" class="I">I</tspan>······<tspan x="420" class="R">R</tspan><tspan x="426" class="L">L</tspan>·<tspan x="438" class="H">H</tspan><tspan x="444" class="D">D</tspan>·<tspan x="456" class="N">N</tspan>·<tspan x="468" class="N">N</tspan><tspan x="474" class="V">V</tspan>··<tspan x="492" class="A">A</tspan>··············<tspan x="582" class="K">K</tspan>··</text>
<text x="180" y="293.36">···<tspan x="198" class="N">N</tspan>·······························<tspan x="390" class="C">C</tspan>············<tspan x="468" class="Q">Q</tspan><tspan x="474" class="V">V</tspan>··<tspan x="492" class="A">A</tspan><tspan x="498" class="Y">Y</tspan>·············<tspan x="582" class="K">K</tspan>··</text>
<text x="180" y="301.09"><tspan x="180" class="N">N</tspan><tspan x="186" class="V">V</tspan>·<tspan x="198" class="N">N</tspan>······<tspan x="240" class="S">S</tspan>················<tspan x="342" class="K">K</tspan>····················<tspan x="468" class="Q">Q</tspan><tspan x="474" class="V">V</tspan>·<tspan x="486" class="G">G</tspan><tspan x="492" class="A">A</tspan>···<tspan x="516" class="L">L</tspan><tspan x="522" class="A">A</tspan><tspan x="528" class="L">L</tspan>···<tspan x="552" class="T">T</tspan>····<tspan x="582" class="K">K</tspan>··</text>
<text x="180" y="308.82"><tspan x="180" class="N">N</tspan>··<tspan x="198" class="N">N</tspan>·····<tspan x="234" class="S">S</tspan><tspan x="240" class="N">N</tspan>··<tspan x="258" class="T">T</tspan>······························<tspan x="444" class="D">D</tspan>···<tspan x="468" class="Q">Q</tspan><tspan x="474" class="V">V</tspan>·<tspan x="486" class="G">G</tspan><tspan x="492" class="A">A</tspan>···<tspan x="516" class="L">L</tspan><tspan x="522" class="A">A</tspan><tspan x="528" class="L">L</tspan>···<tspan x="552" class="T">T</tspan>····<tspan x="582" class="K">K</tspan>··</text>
<text x="180" y="316.55"><tspan x="180" class="N">N</tspan>··<tspan x="198" class="N">N</tspan>·······················<tspan x="342" class="K">K</tspan>·······<tspan x="390" class="C">C</tspan>········<tspan x="444" class="Q">Q</tspan>···<tspan x="468" class="Q">Q</tspan><tspan x="474" class="A">A</tspan>·<tspan x="486" class="G">G</tspan><tspan x="492" class="A">A</tspan>··············<tspan x="582" class="K">K</tspan>··</text>
<text x="180" y="324.28"><tspan x="180" class="N">N</tspan>··<tspan x="198" class="N">N</tspan>·······················<tspan x="342" class="K">K</tspan>··<tspan x="360" class="S">S</tspan>····<tspan x="390" class="C">C</tspan>···<tspan x="414" class="H">H</tspan>········<tspan x="468" class="Q">Q</tspan><tspan x="474" class="V">V</tspan>··<tspan x="492" class="A">A</tspan><tspan x="498" class="Y">Y</tspan>·············<tspan x="582" class="K">K</tspan>··</text>
<text x="180" y="332.01"><tspan x="180" class="N">N</tspan><tspan x="186" class="I">I</tspan>·····<tspan x="222" class="A">A</tspan>···························<tspan x="390" class="C">C</tspan>···<tspan x="414" class="H">H</tspan>···<tspan x="438" class="H">H</tspan><tspan x="444" class="D">D</tspan>·<tspan x="456" class="N">N</tspan>·<tspan x="468" class="Q">Q</tspan><tspan x="474" class="V">V</tspan>··<tspan x="492" class="A">A</tspan>·········<tspan x="552" class="S">S</tspan>·······</text>
<text x="180" y="339.74"><tspan x="180" class="N">N</tspan><tspan x="186" class="I">I</tspan>·····<tspan x="222" class="A">A</tspan>···························<tspan x="390" class="C">C</tspan>···<tspan x="414" class="H">H</tspan>···<tspan x="438" class="H">H</tspan>··<tspan x="456" class="N">N</tspan>·<tspan x="468" class="Q">Q</tspan><tspan x="474" class="V">V</tspan>··<tspan x="492" class="A">A</tspan>·········<tspan x="552" class="S">S</tspan>·······</text>
</g>
</svg>
